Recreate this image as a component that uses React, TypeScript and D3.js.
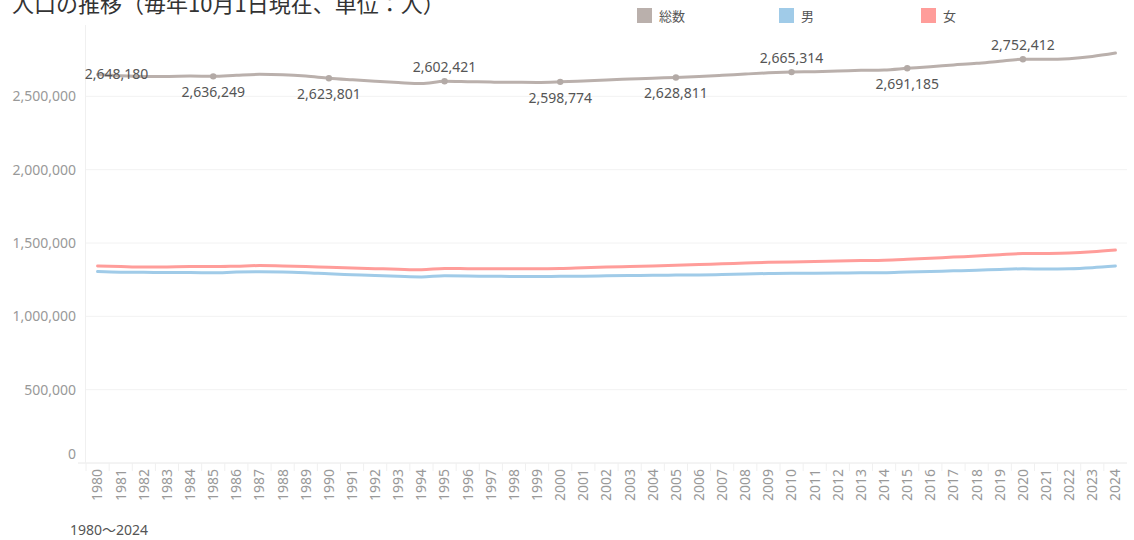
import { useRef, useEffect } from "react";
import * as d3 from "d3";

// ----- data (大阪市の人口, 毎年10月1日現在) -----
const years = d3.range(1980, 2025);

const totalPop = [
  2648180, 2640000, 2636000, 2636000, 2638000, 2636249, 2644000, 2650000,
  2647000, 2638000, 2623801, 2613000, 2603000, 2594000, 2587000, 2602421,
  2600000, 2597000, 2596000, 2595000, 2598774, 2605000, 2612000, 2618000,
  2624000, 2628811, 2635000, 2643000, 2652000, 2660000, 2665314, 2668000,
  2672000, 2677000, 2680000, 2691185, 2702000, 2714000, 2725000, 2740000,
  2752412, 2752000, 2757000, 2772000, 2795000,
];

const malePop = [
  1305000, 1301000, 1300000, 1299000, 1299000, 1297000, 1302000, 1304000,
  1303000, 1298000, 1290000, 1284000, 1278000, 1273000, 1269000, 1276000,
  1275000, 1273000, 1272000, 1271000, 1273000, 1274000, 1276000, 1278000,
  1280000, 1281000, 1282000, 1285000, 1289000, 1292000, 1294000, 1294000,
  1295000, 1297000, 1297000, 1302000, 1306000, 1310000, 1314000, 1320000,
  1324000, 1323000, 1325000, 1332000, 1343000,
];

const femalePop = [
  1343000, 1339000, 1336000, 1337000, 1339000, 1339000, 1342000, 1346000,
  1344000, 1340000, 1334000, 1329000, 1325000, 1321000, 1318000, 1326000,
  1325000, 1324000, 1324000, 1324000, 1326000, 1331000, 1336000, 1340000,
  1344000, 1348000, 1353000, 1358000, 1363000, 1368000, 1371000, 1374000,
  1377000, 1380000, 1383000, 1389000, 1396000, 1404000, 1411000, 1420000,
  1428000, 1429000, 1432000, 1440000, 1452000,
];

// 国勢調査年（ラベル付き）
const censusYears = [1980, 1985, 1990, 1995, 2000, 2005, 2010, 2015, 2020];
const labelPlace = ["on", "below", "below", "above", "below", "below", "above", "below", "above"];

const yTicks = [0, 500000, 1000000, 1500000, 2000000, 2500000];

const seriesNames = ["総数", "男", "女"];
const seriesColors = ["#bab0ac", "#a0cbe8", "#ff9d9a"];

const W = 1134;
const H = 540;
const FONT = "'Noto Sans', 'Noto Sans CJK JP', sans-serif";
const JFONT = "'Noto Sans CJK JP', sans-serif";

const App = () => {
  const svgRef = useRef<SVGSVGElement>(null);

  useEffect(() => {
    document.body.style.margin = "0";
    const svg = d3.select(svgRef.current);
    svg.selectAll("*").remove();

    const plotLeft = 86;
    const plotRight = 1127;
    const plotBottom = 463;

    const x = d3
      .scalePoint<number>()
      .domain(years)
      .range([plotLeft, plotRight])
      .padding(0.5);
    const y = d3.scaleLinear().domain([0, 3000000]).range([plotBottom, 23]);

    // タイトル
    svg
      .append("text")
      .attr("x", 12)
      .attr("y", 12)
      .attr("font-family", JFONT)
      .attr("font-size", 22)
      .attr("fill", "#333")
      .text("人口の推移（毎年10月1日現在、単位：人）");

    // 凡例
    const legendX = [637, 779, 921];
    const legend = svg
      .append("g")
      .selectAll("g")
      .data(seriesNames)
      .join("g")
      .attr("transform", (_, i) => `translate(${legendX[i]},8)`);
    legend
      .append("rect")
      .attr("width", 15)
      .attr("height", 15)
      .attr("fill", (_, i) => seriesColors[i]);
    legend
      .append("text")
      .attr("x", 22)
      .attr("y", 12.5)
      .attr("font-family", JFONT)
      .attr("font-size", 13)
      .attr("fill", "#555")
      .text((d) => d);

    // グリッド
    svg
      .append("g")
      .selectAll("line")
      .data(yTicks)
      .join("line")
      .attr("x1", (d) => (d === 0 ? 78 : plotLeft))
      .attr("x2", plotRight)
      .attr("y1", (d) => y(d))
      .attr("y2", (d) => y(d))
      .attr("stroke", (d) => (d === 0 ? "#e8e8e8" : "#f2f2f2"))
      .attr("stroke-width", 1);

    svg
      .append("line")
      .attr("x1", plotLeft - 0.5)
      .attr("x2", plotLeft - 0.5)
      .attr("y1", 25)
      .attr("y2", plotBottom)
      .attr("stroke", "#f0f0f0");

    // Y軸ラベル
    svg
      .append("g")
      .selectAll("text")
      .data(yTicks)
      .join("text")
      .attr("x", 76)
      .attr("y", (d) => (d === 0 ? y(d) - 9 : y(d)))
      .attr("dy", "0.35em")
      .attr("text-anchor", "end")
      .attr("font-family", FONT)
      .attr("font-size", 14)
      .attr("fill", "#999")
      .text((d) => d3.format(",")(d));

    // X軸の区切り
    const step = x.step();
    svg
      .append("g")
      .selectAll("line")
      .data(years)
      .join("line")
      .attr("x1", (d) => x(d)! - step / 2)
      .attr("x2", (d) => x(d)! - step / 2)
      .attr("y1", plotBottom)
      .attr("y2", plotBottom + 8)
      .attr("stroke", "#f0f0f0");

    // X軸ラベル（縦書き）
    svg
      .append("g")
      .selectAll("text")
      .data(years)
      .join("text")
      .attr("transform", (d) => `translate(${x(d)},${plotBottom + 6}) rotate(-90)`)
      .attr("text-anchor", "end")
      .attr("dy", "0.35em")
      .attr("font-family", FONT)
      .attr("font-size", 14)
      .attr("fill", "#999")
      .text((d) => d);

    // 線
    const line = d3
      .line<number>()
      .x((_, i) => x(years[i])!)
      .y((d) => y(d))
      .curve(d3.curveMonotoneX);

    const series = [totalPop, malePop, femalePop];
    svg
      .append("g")
      .selectAll("path")
      .data(series)
      .join("path")
      .attr("d", (d) => line(d))
      .attr("fill", "none")
      .attr("stroke", (_, i) => seriesColors[i])
      .attr("stroke-width", 3)
      .attr("stroke-linejoin", "round")
      .attr("stroke-linecap", "round");

    // 国勢調査年のマーカーとラベル
    const marks = censusYears.map((yr, i) => ({
      year: yr,
      value: totalPop[years.indexOf(yr)],
      place: labelPlace[i],
    }));

    svg
      .append("g")
      .selectAll("circle")
      .data(marks.slice(1))
      .join("circle")
      .attr("cx", (d) => x(d.year)!)
      .attr("cy", (d) => y(d.value))
      .attr("r", 3.2)
      .attr("fill", "#b3aaa6");

    svg
      .append("g")
      .selectAll("text")
      .data(marks)
      .join("text")
      .attr("x", (d) => (d.place === "on" ? x(d.year)! + 19 : x(d.year)!))
      .attr("y", (d) => {
        const py = y(d.value);
        if (d.place === "above") return py - 14;
        if (d.place === "below") return py + 16;
        return py - 1;
      })
      .attr("dy", "0.35em")
      .attr("text-anchor", "middle")
      .attr("font-family", FONT)
      .attr("font-size", 14)
      .attr("fill", "#555")
      .text((d) => d3.format(",")(d.value));

    // 期間
    svg
      .append("text")
      .attr("x", 70)
      .attr("y", 530)
      .attr("dy", "0.35em")
      .attr("font-family", FONT)
      .attr("font-size", 14)
      .attr("fill", "#555")
      .text("1980～2024");

    return () => {
      svg.selectAll("*").remove();
    };
  }, []);

  return <svg ref={svgRef} width={W} height={H} style={{ display: "block" }}></svg>;
};

export default App;
